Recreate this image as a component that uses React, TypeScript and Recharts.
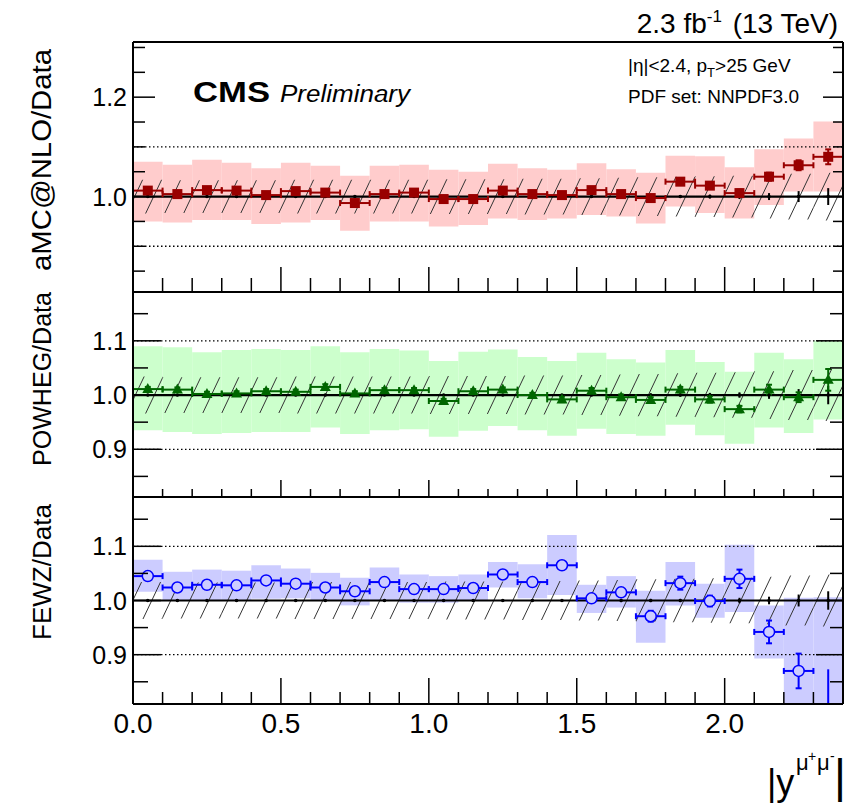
import React from "react";
import {
  ComposedChart,
  XAxis,
  YAxis,
  Scatter,
  ErrorBar,
  ReferenceArea,
  ReferenceLine,
} from "recharts";

const FONT = "'Liberation Sans', Arial, Helvetica, sans-serif";

// 24 bins of |y| with width 0.1
const BIN_CENTERS = [
  0.05, 0.15, 0.25, 0.35, 0.45, 0.55, 0.65, 0.75, 0.85, 0.95, 1.05, 1.15,
  1.25, 1.35, 1.45, 1.55, 1.65, 1.75, 1.85, 1.95, 2.05, 2.15, 2.25, 2.35,
];
const BIN_HALF = 0.05;

// data uncertainty (hatched) and data stat errors at 1.0
const DATA_UNC = [
  0.034, 0.033, 0.033, 0.033, 0.033, 0.034, 0.034, 0.034, 0.034, 0.034, 0.035, 0.035,
  0.035, 0.036, 0.036, 0.037, 0.038, 0.039, 0.04, 0.041, 0.042, 0.044, 0.046, 0.048,
];
const DATA_STAT = [
  0.002, 0.002, 0.002, 0.002, 0.002, 0.002, 0.002, 0.002, 0.002, 0.002, 0.002, 0.002,
  0.002, 0.002, 0.002, 0.002, 0.003, 0.003, 0.003, 0.004, 0.005, 0.007, 0.011, 0.017,
];

// aMC@NLO / Data
const AMC_RATIO = [
  1.012, 1.005, 1.013, 1.012, 1.003, 1.011, 1.008, 0.987, 1.005, 1.008, 0.995, 0.995,
  1.012, 1.005, 1.003, 1.013, 1.005, 0.997, 1.03, 1.022, 1.007, 1.04, 1.063, 1.08,
];
const AMC_ERR = [
  0.004, 0.004, 0.004, 0.004, 0.004, 0.004, 0.004, 0.005, 0.004, 0.004, 0.004, 0.004,
  0.004, 0.004, 0.005, 0.005, 0.005, 0.005, 0.006, 0.006, 0.007, 0.008, 0.01, 0.015,
];
const AMC_HI = [
  1.07, 1.064, 1.074, 1.068, 1.057, 1.068, 1.062, 1.042, 1.062, 1.064, 1.054, 1.05,
  1.066, 1.057, 1.054, 1.067, 1.055, 1.048, 1.082, 1.081, 1.059, 1.095, 1.117, 1.151,
];
const AMC_LO = [
  0.95, 0.948, 0.953, 0.953, 0.945, 0.948, 0.953, 0.931, 0.95, 0.95, 0.94, 0.943,
  0.956, 0.953, 0.956, 0.963, 0.96, 0.946, 0.98, 0.967, 0.956, 0.983, 1.01, 1.01,
];

// POWHEG / Data
const POW_RATIO = [
  1.011, 1.01, 1.002, 1.003, 1.007, 1.006, 1.015, 1.003, 1.009, 1.009, 0.989, 1.007,
  1.01, 1.0, 0.992, 1.008, 0.996, 0.991, 1.01, 0.992, 0.974, 1.01, 0.996, 1.028,
];
const POW_ERR = [
  0.004, 0.004, 0.004, 0.004, 0.004, 0.004, 0.005, 0.004, 0.004, 0.004, 0.004, 0.004,
  0.004, 0.004, 0.005, 0.005, 0.005, 0.005, 0.005, 0.006, 0.006, 0.009, 0.009, 0.02,
];
const POW_HI = [
  1.09, 1.088, 1.079, 1.083, 1.085, 1.083, 1.09, 1.079, 1.085, 1.082, 1.063, 1.08,
  1.084, 1.07, 1.063, 1.078, 1.066, 1.06, 1.083, 1.061, 1.043, 1.078, 1.066, 1.1,
];
const POW_LO = [
  0.935, 0.932, 0.928, 0.93, 0.932, 0.932, 0.94, 0.928, 0.935, 0.937, 0.923, 0.934,
  0.943, 0.935, 0.925, 0.938, 0.928, 0.925, 0.945, 0.926, 0.91, 0.94, 0.93, 0.955,
];

// FEWZ / Data
const FEWZ_RATIO = [
  1.045, 1.024, 1.029, 1.028, 1.037, 1.031, 1.024, 1.017, 1.034, 1.021, 1.021, 1.023,
  1.048, 1.034, 1.065, 1.004, 1.015, 0.971, 1.032, 0.999, 1.04, 0.942, 0.87, 0.79,
];
const FEWZ_ERR = [
  0.004, 0.004, 0.004, 0.004, 0.004, 0.004, 0.004, 0.004, 0.004, 0.004, 0.004, 0.004,
  0.005, 0.005, 0.006, 0.006, 0.007, 0.01, 0.012, 0.01, 0.017, 0.021, 0.032, 0.083,
];
const FEWZ_HI = [
  1.075, 1.053, 1.057, 1.055, 1.065, 1.059, 1.051, 1.042, 1.061, 1.048, 1.045, 1.048,
  1.071, 1.067, 1.121, 1.029, 1.045, 1.018, 1.071, 1.031, 1.103, 0.991, 1.005, 1.006,
];
const FEWZ_LO = [
  1.016, 1.0, 1.001, 1.001, 1.003, 1.004, 1.0, 0.991, 1.001, 0.996, 0.996, 0.999,
  1.024, 1.004, 1.01, 0.977, 0.987, 0.922, 0.991, 0.968, 0.979, 0.893, 0.75, 0.75,
];

const X_TICKS = [
  0, 0.1, 0.2, 0.3, 0.4, 0.5, 0.6, 0.7, 0.8, 0.9, 1.0, 1.1, 1.2,
  1.3, 1.4, 1.5, 1.6, 1.7, 1.8, 1.9, 2.0, 2.1, 2.2, 2.3, 2.4,
];
const X_MAJOR = [0, 0.5, 1.0, 1.5, 2.0];
const Y_TICKS_TOP = [0.85, 0.9, 0.95, 1.0, 1.05, 1.1, 1.15, 1.2, 1.25, 1.3];
const Y_MAJOR_TOP = [1.0, 1.2];
const Y_TICKS_SUB = [0.85, 0.9, 0.95, 1.0, 1.05, 1.1, 1.15];
const Y_MAJOR_SUB = [0.9, 1.0, 1.1];

const W = 852;
const H = 803;
const PLOT_LEFT = 133;
const PLOT_RIGHT = 843;

type Side = "left" | "right" | "top" | "bottom";

const near = (arr: number[], v: number) => arr.some((m) => Math.abs(m - v) < 1e-6);

const makeTick =
  (side: Side, major: number[], lenMajor: number, lenMinor: number, showLabel: boolean) =>
  (p: any) => {
    const v = p.payload.value as number;
    const isMajor = near(major, v);
    const len = isMajor ? lenMajor : lenMinor;
    const { x, y } = p;
    let seg = { x1: x, x2: x, y1: y, y2: y };
    if (side === "left") seg = { x1: x, x2: x + len, y1: y, y2: y };
    if (side === "right") seg = { x1: x - len, x2: x, y1: y, y2: y };
    if (side === "top") seg = { x1: x, x2: x, y1: y, y2: y + len };
    if (side === "bottom") seg = { x1: x, x2: x, y1: y - len, y2: y };
    return (
      <g>
        <line {...seg} stroke="#000" strokeWidth={1.5} />
        {showLabel && isMajor && side === "left" && (
          <text x={x - 6} y={y} dy="0.36em" textAnchor="end" fontSize={25} fontFamily={FONT} fill="#000">
            {v.toFixed(1)}
          </text>
        )}
        {showLabel && isMajor && side === "bottom" && (
          <text x={x} y={y + 29} textAnchor="middle" fontSize={28} fontFamily={FONT} fill="#000">
            {v.toFixed(1)}
          </text>
        )}
      </g>
    );
  };

const AXIS_LINE = { stroke: "#000", strokeWidth: 2 };

interface PanelProps {
  top: number;
  bottom: number;
  domain: [number, number];
  yTicks: number[];
  yMajor: number[];
  ratio: number[];
  err: number[];
  hi: number[];
  lo: number[];
  bandColor: string;
  color: string;
  shape: (p: any) => React.ReactElement;
  tl: { top: number[]; bottom: number[]; left: number[]; right: number[] };
  xLabels: boolean;
}

const Panel = (props: PanelProps) => {
  const { top, bottom, domain, yTicks, yMajor, ratio, err, hi, lo, bandColor, color, shape, tl, xLabels } = props;
  const [dmin, dmax] = domain;
  const pts = BIN_CENTERS.map((x, i) => ({ x, y: ratio[i], ex: BIN_HALF, ey: err[i] }));
  const inside = pts.filter((p) => p.y >= dmin && p.y <= dmax);
  // points off the axis range: only the visible part of the vertical error bar
  const outside = pts
    .filter((p) => p.y < dmin || p.y > dmax)
    .map((p) => ({
      x: p.x,
      y: p.y,
      ey: [p.y - Math.max(p.y - p.ey, dmin), Math.min(p.y + p.ey, dmax) - p.y],
    }));
  const dataPts = BIN_CENTERS.map((x, i) => ({ x, y: 1, ey: DATA_STAT[i] }));

  return (
    <div style={{ position: "absolute", left: 0, top: 0 }}>
      <ComposedChart
        width={W}
        height={H}
        margin={{ top: top - 1, bottom: H - bottom - 1, left: PLOT_LEFT - 1, right: W - PLOT_RIGHT - 1 }}
      >
        <XAxis
          dataKey="x"
          type="number"
          domain={[0, 2.4]}
          allowDataOverflow
          ticks={X_TICKS}
          interval={0}
          height={1}
          tickSize={0}
          tickMargin={0}
          tickLine={false}
          axisLine={AXIS_LINE}
          tick={makeTick("bottom", X_MAJOR, tl.bottom[0], tl.bottom[1], xLabels)}
        />
        <XAxis
          xAxisId="top"
          orientation="top"
          type="number"
          domain={[0, 2.4]}
          allowDataOverflow
          ticks={X_TICKS}
          interval={0}
          height={1}
          tickSize={0}
          tickMargin={0}
          tickLine={false}
          axisLine={AXIS_LINE}
          tick={makeTick("top", X_MAJOR, tl.top[0], tl.top[1], false)}
        />
        <YAxis
          dataKey="y"
          type="number"
          domain={domain}
          allowDataOverflow
          ticks={yTicks}
          interval={0}
          width={1}
          tickSize={0}
          tickMargin={0}
          tickLine={false}
          axisLine={AXIS_LINE}
          tick={makeTick("left", yMajor, tl.left[0], tl.left[1], true)}
        />
        <YAxis
          yAxisId="right"
          orientation="right"
          type="number"
          domain={domain}
          allowDataOverflow
          ticks={yTicks}
          interval={0}
          width={1}
          tickSize={0}
          tickMargin={0}
          tickLine={false}
          axisLine={AXIS_LINE}
          tick={makeTick("right", yMajor, tl.right[0], tl.right[1], false)}
        />
        {BIN_CENTERS.map((c, i) => (
          <ReferenceArea
            key={`band-${i}`}
            x1={c - BIN_HALF}
            x2={c + BIN_HALF}
            y1={lo[i]}
            y2={hi[i]}
            fill={bandColor}
            fillOpacity={1}
            stroke="none"
            ifOverflow="hidden"
          />
        ))}
        {BIN_CENTERS.map((c, i) => (
          <ReferenceArea
            key={`hatch-${i}`}
            x1={c - BIN_HALF}
            x2={c + BIN_HALF}
            y1={1 - DATA_UNC[i]}
            y2={1 + DATA_UNC[i]}
            fill="url(#hatch)"
            fillOpacity={1}
            stroke="none"
            ifOverflow="hidden"
          />
        ))}
        <ReferenceLine y={1.1} stroke="#000" strokeWidth={1.3} strokeDasharray="1.5 2.5" />
        <ReferenceLine y={0.9} stroke="#000" strokeWidth={1.3} strokeDasharray="1.5 2.5" />
        <ReferenceLine y={1} stroke="#000" strokeWidth={2.2} />
        <Scatter
          data={dataPts}
          isAnimationActive={false}
          shape={(p: any) => <circle cx={p.cx} cy={p.cy} r={1.8} fill="#000" />}
        >
          <ErrorBar dataKey="ey" direction="y" width={0} stroke="#000" strokeWidth={2} isAnimationActive={false} />
        </Scatter>
        <Scatter data={inside} isAnimationActive={false} shape={shape}>
          <ErrorBar dataKey="ex" direction="x" width={3} stroke={color} strokeWidth={2} isAnimationActive={false} />
          <ErrorBar dataKey="ey" direction="y" width={3} stroke={color} strokeWidth={2} isAnimationActive={false} />
        </Scatter>
        {outside.length > 0 && (
          <Scatter data={outside} isAnimationActive={false} shape={() => <g />}>
            <ErrorBar dataKey="ey" direction="y" width={0} stroke={color} strokeWidth={2} isAnimationActive={false} />
          </Scatter>
        )}
      </ComposedChart>
    </div>
  );
};

const AMC_COLOR = "#990000";
const POW_COLOR = "#006600";
const FEWZ_COLOR = "#0000ff";

const squareShape = (p: any) => <rect x={p.cx - 5} y={p.cy - 5} width={10} height={10} fill={AMC_COLOR} />;
const triangleShape = (p: any) => (
  <polygon points={`${p.cx},${p.cy - 6} ${p.cx - 5.5},${p.cy + 4} ${p.cx + 5.5},${p.cy + 4}`} fill={POW_COLOR} />
);
const circleShape = (p: any) => (
  <circle cx={p.cx} cy={p.cy} r={5.5} fill="#ccccff" stroke={FEWZ_COLOR} strokeWidth={1.5} />
);

const Overlay = () => (
  <svg width={W} height={H} style={{ position: "absolute", left: 0, top: 0 }}>
    <defs>
      <pattern id="hatch" patternUnits="userSpaceOnUse" width={19} height={40}>
        <line x1={-19} y1={40} x2={0} y2={0} stroke="#333" strokeWidth={1} />
        <line x1={0} y1={40} x2={19} y2={0} stroke="#333" strokeWidth={1} />
        <line x1={19} y1={40} x2={38} y2={0} stroke="#333" strokeWidth={1} />
      </pattern>
    </defs>
    <g fontFamily={FONT} fill="#000">
      <text x={838} y={33} textAnchor="end" fontSize={28}>
        2.3 fb<tspan dy={-11} fontSize={17}>-1</tspan>
        <tspan dy={11} dx={3}>{"\u00a0(13 TeV)"}</tspan>
      </text>
      <text x={193} y={102} fontSize={29} fontWeight="bold" textLength={77} lengthAdjust="spacingAndGlyphs">
        CMS
      </text>
      <text x={280} y={102} fontSize={23} fontStyle="italic" textLength={130} lengthAdjust="spacingAndGlyphs">
        Preliminary
      </text>
      <text x={628} y={72} fontSize={19}>
        |η|&lt;2.4, p<tspan dy={5} fontSize={13}>T</tspan>
        <tspan dy={-5}>&gt;25 GeV</tspan>
      </text>
      <text x={628} y={103} fontSize={19}>
        PDF set: NNPDF3.0
      </text>
      <text x={51} y={160} fontSize={27} textAnchor="middle" transform="rotate(-90 51 160)" textLength={222} lengthAdjust="spacingAndGlyphs">
        aMC@NLO/Data
      </text>
      <text x={51} y={379} fontSize={26} textAnchor="middle" transform="rotate(-90 51 379)" textLength={174} lengthAdjust="spacingAndGlyphs">
        POWHEG/Data
      </text>
      <text x={51} y={572} fontSize={26} textAnchor="middle" transform="rotate(-90 51 572)" textLength={136} lengthAdjust="spacingAndGlyphs">
        FEWZ/Data
      </text>
      <text x={767} y={795} fontSize={36}>|y</text>
      <text x={796} y={770} fontSize={22}>μ</text>
      <text x={808} y={761} fontSize={14}>+</text>
      <text x={817} y={770} fontSize={22}>μ</text>
      <text x={830} y={761} fontSize={14}>-</text>
      <text x={834} y={792} fontSize={46}>|</text>
    </g>
  </svg>
);

export default function App() {
  return (
    <div style={{ position: "absolute", left: 0, top: 0, width: W, height: H, background: "#fff" }}>
      <Panel
        top={42}
        bottom={292}
        domain={[0.808, 1.311]}
        yTicks={Y_TICKS_TOP}
        yMajor={Y_MAJOR_TOP}
        ratio={AMC_RATIO}
        err={AMC_ERR}
        hi={AMC_HI}
        lo={AMC_LO}
        bandColor="#ffcccc"
        color={AMC_COLOR}
        shape={squareShape}
        tl={{ top: [26, 13], bottom: [25, 14], left: [22, 12], right: [20, 10] }}
        xLabels={false}
      />
      <Panel
        top={292}
        bottom={497}
        domain={[0.812, 1.19]}
        yTicks={Y_TICKS_SUB}
        yMajor={Y_MAJOR_SUB}
        ratio={POW_RATIO}
        err={POW_ERR}
        hi={POW_HI}
        lo={POW_LO}
        bandColor="#ccffcc"
        color={POW_COLOR}
        shape={triangleShape}
        tl={{ top: [18, 13], bottom: [17, 8], left: [28, 15], right: [27, 13] }}
        xLabels={false}
      />
      <Panel
        top={497}
        bottom={704}
        domain={[0.809, 1.191]}
        yTicks={Y_TICKS_SUB}
        yMajor={Y_MAJOR_SUB}
        ratio={FEWZ_RATIO}
        err={FEWZ_ERR}
        hi={FEWZ_HI}
        lo={FEWZ_LO}
        bandColor="#ccccff"
        color={FEWZ_COLOR}
        shape={circleShape}
        tl={{ top: [23, 13], bottom: [26, 12], left: [28, 15], right: [27, 13] }}
        xLabels={true}
      />
      <Overlay />
    </div>
  );
}
